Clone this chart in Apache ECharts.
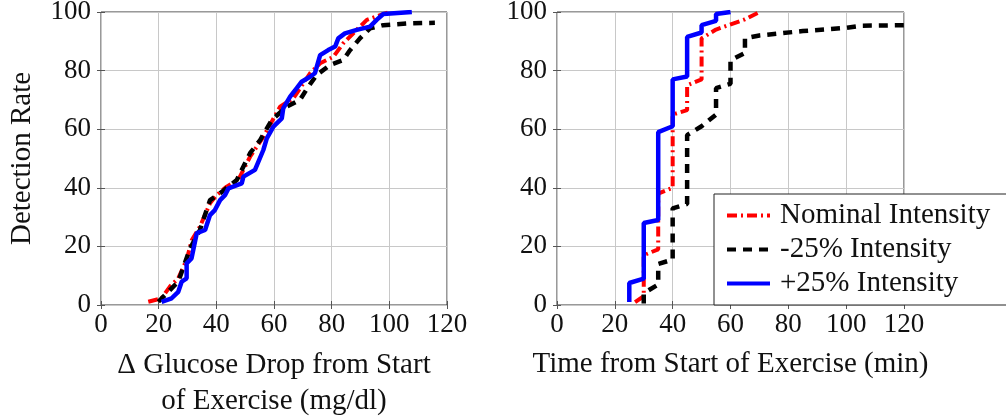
<!DOCTYPE html>
<html>
<head>
<meta charset="utf-8">
<script src="https://cdn.jsdelivr.net/npm/echarts@6/dist/echarts.min.js"></script>
<style>
    html, body { margin: 0; padding: 0; background: #fff; }
    #chart { width: 1006px; height: 417px; }
</style>
</head>
<body>
<div id="chart"></div>
<script>
// tick labels (both panels share them)
var xTicks = [0, 20, 40, 60, 80, 100, 120];
var yTicks = [0, 20, 40, 60, 80, 100];
var seriesNames = ['Nominal Intensity', '-25% Intensity', '+25% Intensity'];

// left panel: glucose drop (mg/dl) vs detection rate (%)
var glucNomX = [16.4, 21.0, 23.9, 26.8, 29.7, 31.5, 34.3, 37.8, 40.1, 43.6, 47.6, 51.7, 56.3, 62.1, 66.7, 70.2, 72.5, 76.0, 80.6, 84.0, 88.7, 92.2, 96.8, 100.2];
var glucNomY = [1.1, 2.3, 6.3, 9.1, 15.4, 22.2, 26.7, 34.7, 37.5, 40.4, 42.7, 50.6, 57.4, 67.7, 70.5, 75.7, 79.1, 82.5, 84.7, 89.3, 93.9, 97.3, 98.9, 100];
var glucLowX = [19.9, 23.9, 26.8, 30.9, 34.3, 37.8, 41.3, 47.1, 51.7, 55.2, 59.2, 64.4, 69.0, 71.9, 74.8, 79.4, 84.0, 86.4, 89.8, 93.3, 97.9, 106.0, 115.8];
var glucLowY = [1.1, 5.1, 8.0, 19.3, 25.6, 35.8, 38.1, 42.7, 51.8, 56.3, 63.1, 67.7, 70.0, 74.5, 78.5, 81.9, 83.6, 87.0, 91.0, 94.4, 95.5, 96.1, 96.3];
var glucHighX = [21.0, 24.5, 26.8, 28.0, 29.7, 29.7, 31.4, 33.2, 36.1, 37.8, 39.5, 41.3, 43.0, 44.2, 48.8, 49.4, 53.4, 56.3, 57.5, 59.8, 62.7, 63.2, 65.6, 67.9, 69.6, 72.5, 74.2, 76.0, 78.8, 81.2, 82.3, 84.6, 88.7, 93.3, 95.6, 97.9, 107.8];
var glucHighY = [1.1, 2.3, 4.5, 8.0, 9.1, 14.2, 15.9, 24.5, 25.6, 30.7, 32.4, 35.8, 37.5, 39.8, 41.5, 43.8, 46.1, 52.9, 56.9, 60.9, 63.7, 67.1, 71.1, 74.0, 76.2, 77.9, 79.1, 85.3, 87.0, 88.2, 91.0, 92.7, 93.9, 95.0, 97.3, 99.3, 100];

// right panel: time from start of exercise (min) vs detection rate (%)
var timeNomX = [27, 30, 30, 35, 35, 40, 40, 45, 45, 50, 50, 55, 65, 70];
var timeNomY = [1, 3, 17, 19, 38, 40, 65, 66.5, 75, 77, 91, 94, 97.5, 100];
var timeLowX = [30, 30, 35, 35, 40, 40, 45, 45, 50, 55, 55, 60, 60, 65, 65, 70, 85, 100, 105, 120];
var timeLowY = [0.5, 4, 7, 14, 15.5, 33, 34.5, 58, 61, 65, 74, 75.5, 83.5, 86, 91, 92, 93.5, 94.6, 95.3, 95.5];
var timeHighX = [25, 25, 30, 30, 35, 35, 40, 40, 45, 45, 50, 50, 55, 55, 60];
var timeHighY = [1, 7.5, 9, 28, 29, 59, 61, 77, 78, 91.5, 93, 95.5, 97, 99.3, 100];

drawChart();

function pairs(xs, ys) {
    var out = [];
    for (var i = 0; i < xs.length; i++) {
        out.push([xs[i], ys[i]]);
    }
    return out;
}

function drawChart() {
    var dom = document.getElementById('chart');
    var myChart = echarts.init(dom, null, { renderer: 'canvas' });
    var font = "'Liberation Serif', serif";
    var textColor = '#111';
    var fontSize = 29;
    var tickSize = 27;

    var lineStyles = [
        { color: '#ff0000', width: 4, type: [10, 4, 2, 4] },
        { color: '#000000', width: 4.5, type: [9, 7] },
        { color: '#0000ff', width: 4.5, type: 'solid' }
    ];

    function xAxis(grid, name, main, gap) {
        return {
            type: 'value',
            gridIndex: grid,
            position: main ? 'bottom' : 'top',
            min: 0,
            max: 120,
            interval: 20,
            name: main ? name : '',
            nameLocation: 'middle',
            nameGap: gap,
            nameTextStyle: {
                fontFamily: font,
                fontSize: fontSize,
                color: textColor,
                lineHeight: 36
            },
            axisLine: { show: false },
            axisTick: {
                show: true,
                inside: true,
                length: 4,
                lineStyle: { color: '#555' }
            },
            axisLabel: {
                show: main,
                margin: 6,
                fontFamily: font,
                fontSize: tickSize,
                color: textColor,
                formatter: function (v) { return xTicks.indexOf(v) >= 0 ? String(v) : ''; }
            },
            splitLine: {
                show: main,
                lineStyle: { color: '#c8c8c8', width: 1 }
            }
        };
    }

    function yAxis(grid, name, main) {
        return {
            type: 'value',
            gridIndex: grid,
            position: main ? 'left' : 'right',
            min: 0,
            max: 100,
            interval: 20,
            name: name,
            nameLocation: 'middle',
            nameGap: 64,
            nameTextStyle: {
                fontFamily: font,
                fontSize: fontSize,
                color: textColor
            },
            axisLine: { show: false },
            axisTick: {
                show: true,
                inside: true,
                length: 4,
                lineStyle: { color: '#555' }
            },
            axisLabel: {
                show: main,
                margin: 10,
                fontFamily: font,
                fontSize: tickSize,
                color: textColor,
                formatter: function (v) { return yTicks.indexOf(v) >= 0 ? String(v) : ''; }
            },
            splitLine: {
                show: main,
                lineStyle: { color: '#c8c8c8', width: 1 }
            }
        };
    }

    function line(name, data, style, xi, yi) {
        return {
            name: name,
            type: 'line',
            xAxisIndex: xi,
            yAxisIndex: yi,
            symbol: 'none',
            smooth: false,
            lineStyle: style,
            itemStyle: { color: style.color },
            data: data
        };
    }

    var option = {
        animation: false,
        backgroundColor: '#fff',
        grid: [
            { left: 101, top: 12, width: 346, height: 293, outerBoundsMode: 'none', containLabel: false, show: true, borderColor: '#333', borderWidth: 1, backgroundColor: 'transparent' },
            { left: 557, top: 12, width: 347, height: 293, outerBoundsMode: 'none', containLabel: false, show: true, borderColor: '#333', borderWidth: 1, backgroundColor: 'transparent' }
        ],
        legend: {
            orient: 'vertical',
            left: 714,
            top: 194,
            padding: [7, 60, 7, 11],
            itemGap: 5,
            itemWidth: 43,
            itemHeight: 14,
            backgroundColor: '#fff',
            borderColor: '#222',
            borderWidth: 1,
            borderRadius: 0,
            itemStyle: { opacity: 0 },
            lineStyle: { width: 4 },
            textStyle: {
                fontFamily: font,
                fontSize: fontSize,
                color: textColor,
                padding: [0, 0, 0, 5]
            },
            data: seriesNames
        },
        xAxis: [
            xAxis(0, '\u0394 Glucose Drop from Start\nof Exercise (mg/dl)', true, 42),
            xAxis(0, '', false, 0),
            xAxis(1, 'Time from Start of Exercise (min)', true, 41),
            xAxis(1, '', false, 0)
        ],
        yAxis: [
            yAxis(0, 'Detection Rate', true),
            yAxis(0, '', false),
            yAxis(1, '', true),
            yAxis(1, '', false)
        ],
        series: [
            line(seriesNames[0], pairs(glucNomX, glucNomY), lineStyles[0], 0, 0),
            line(seriesNames[1], pairs(glucLowX, glucLowY), lineStyles[1], 0, 0),
            line(seriesNames[2], pairs(glucHighX, glucHighY), lineStyles[2], 0, 0),
            line(seriesNames[0], pairs(timeNomX, timeNomY), lineStyles[0], 2, 2),
            line(seriesNames[1], pairs(timeLowX, timeLowY), lineStyles[1], 2, 2),
            line(seriesNames[2], pairs(timeHighX, timeHighY), lineStyles[2], 2, 2)
        ]
    };
    myChart.setOption(option, true);
    window.onresize = myChart.resize;
}
</script>
</body>
</html>
